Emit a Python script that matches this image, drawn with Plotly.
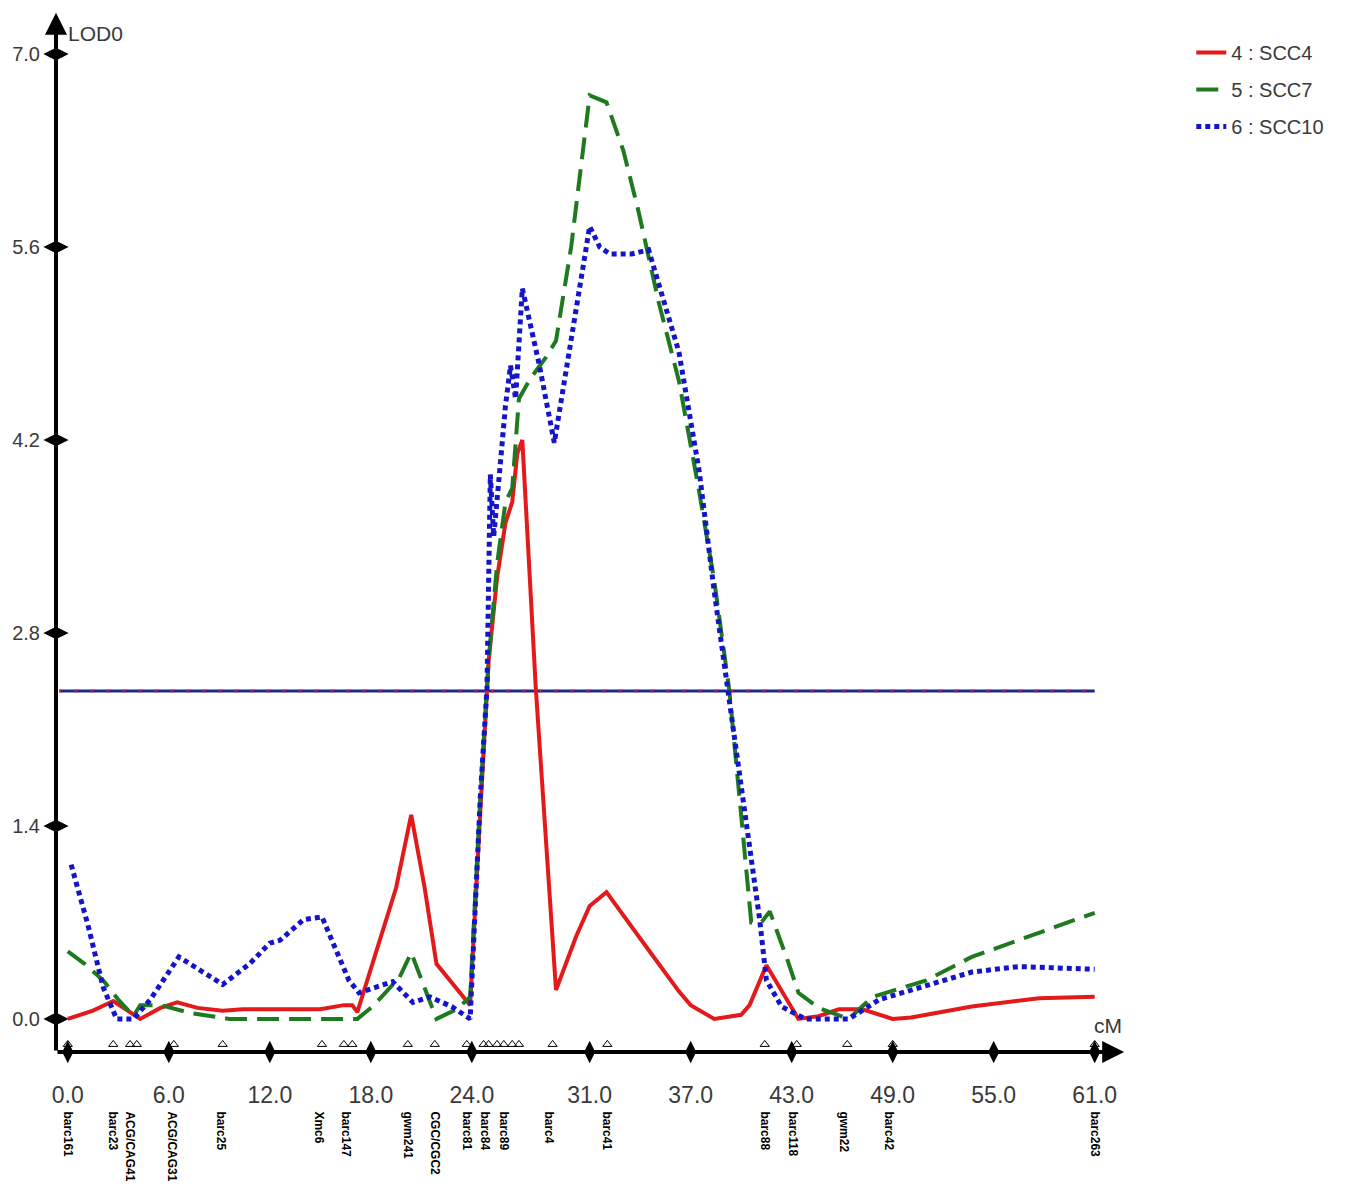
import plotly.graph_objects as go

# ---------------- data ----------------
tick_cm = [0.0, 6.0, 12.0, 18.0, 24.0, 31.0, 37.0, 43.0, 49.0, 55.0, 61.0]
tick_cm_text = ["0.0", "6.0", "12.0", "18.0", "24.0", "31.0", "37.0", "43.0", "49.0", "55.0", "61.0"]
tick_lod = [0.0, 1.4, 2.8, 4.2, 5.6, 7.0]
tick_lod_text = ["0.0", "1.4", "2.8", "4.2", "5.6", "7.0"]

marker_pos = [0.0, 2.7, 3.7, 4.1, 6.3, 9.2, 15.1, 16.4, 16.9, 20.2, 21.8, 23.7, 24.7,
              25.0, 25.5, 25.9, 26.4, 26.8, 28.8, 32.05, 41.4, 43.3, 46.3, 49.0, 61.0]
label_pos = [0.0, 2.7, 3.7, 6.2, 9.1, 14.9, 16.5, 20.2, 21.8, 23.7, 24.8, 25.9, 28.6,
             32.0, 41.4, 43.1, 46.1, 48.8, 61.0]
label_names = ["barc161", "barc23", "ACG/CAG41", "ACG/CAG31", "barc25", "Xmc6", "barc147",
               "gwm241", "CGC/CGC2", "barc81", "barc84", "barc89", "barc4", "barc41",
               "barc88", "barc118", "gwm22", "barc42", "barc263"]

threshold = 2.38

scc4_pos = [0.0, 1.5, 2.7, 4.3, 5.5, 6.5, 7.7, 9.2, 10.4, 12.0, 15.0, 16.4, 16.9, 17.2,
            18.5, 19.5, 20.4, 21.2, 21.9, 23.9, 24.5, 25.0, 25.5, 26.0, 26.4, 26.7, 27.0,
            27.8, 29.0, 30.2, 31.0, 32.0, 34.5, 36.3, 37.0, 38.4, 40.0, 40.5, 41.5, 43.4,
            44.6, 45.8, 47.2, 49.0, 50.1, 53.7, 57.7, 61.0]
scc4_lod = [0.0, 0.06, 0.13, 0.0, 0.08, 0.12, 0.08, 0.06, 0.07, 0.07, 0.07, 0.10, 0.10, 0.05,
            0.55, 0.95, 1.48, 0.95, 0.40, 0.10, 1.5, 2.6, 3.2, 3.6, 3.75, 4.1, 4.2,
            2.4, 0.21, 0.6, 0.82, 0.92, 0.5, 0.2, 0.1, 0.0, 0.03, 0.1, 0.39, 0.0,
            0.02, 0.07, 0.07, 0.0, 0.01, 0.09, 0.15, 0.16]

scc7_pos = [0.0, 1.0, 2.1, 3.0, 3.9, 4.3, 5.5, 7.4, 9.6, 12.0, 15.0, 17.2, 18.1, 19.7,
            20.4, 21.3, 21.9, 23.1, 23.9, 24.5, 25.0, 25.5, 26.0, 26.4, 26.8, 27.5, 28.4,
            29.0, 29.9, 31.0, 32.0, 33.0, 33.9, 35.1, 36.3, 37.5, 38.4, 39.3, 40.0, 40.6,
            41.2, 41.7, 42.8, 43.4, 44.6, 46.4, 47.8, 51.0, 53.7, 56.9, 61.0]
scc7_lod = [0.49, 0.40, 0.28, 0.14, 0.02, 0.10, 0.10, 0.04, 0.0, 0.0, 0.0, 0.0, 0.09, 0.30,
            0.48, 0.19, 0.0, 0.07, 0.16, 1.6, 2.6, 3.3, 3.75, 3.85, 4.5, 4.65, 4.8,
            4.92, 5.6, 6.7, 6.65, 6.3, 5.86, 5.2, 4.63, 3.83, 3.18, 2.38, 1.45, 0.7,
            0.7, 0.78, 0.41, 0.19, 0.08, 0.0, 0.16, 0.28, 0.45, 0.59, 0.77]

scc10_pos = [0.2, 1.2, 2.1, 2.9, 3.9, 4.9, 6.6, 7.8, 9.2, 10.8, 12.0, 12.6, 14.0, 15.1,
             15.5, 16.7, 17.3, 19.3, 20.5, 21.5, 22.8, 23.9, 24.5, 24.9, 25.1, 25.3, 25.6,
             26.0, 26.3, 26.6, 27.0, 28.0, 28.9, 31.0, 31.6, 32.2, 33.5, 34.5, 36.3, 37.5,
             38.4, 39.2, 40.2, 41.1, 41.5, 42.4, 43.8, 46.4, 48.2, 50.6, 53.7, 56.5, 61.0]
scc10_lod = [1.12, 0.68, 0.23, 0.0, 0.0, 0.14, 0.45, 0.36, 0.25, 0.40, 0.55, 0.57, 0.72, 0.74,
             0.62, 0.28, 0.19, 0.27, 0.12, 0.16, 0.09, 0.0, 1.6, 2.4, 3.95, 3.5, 3.9,
             4.45, 4.74, 4.5, 5.3, 4.75, 4.18, 5.75, 5.6, 5.55, 5.55, 5.58, 4.84, 3.98,
             3.1, 2.38, 1.48, 0.72, 0.28, 0.09, 0.0, 0.0, 0.14, 0.23, 0.34, 0.38, 0.36]

# ---------------- styling ----------------
X0, X1 = -0.7, 62.8
Y0, Y1 = -0.24, 7.32
NARROW = "Liberation Sans Narrow, Arial Narrow, Liberation Sans, sans-serif"
GREY = "#3a3a3a"
RED = "#e31a1c"
GREEN = "#1f7a1f"
BLUE = "#1414c8"

fig = go.Figure()

# threshold line (dotted multicolour look)
fig.add_trace(go.Scatter(x=[X0 + 0.2, 61.0], y=[threshold, threshold], mode="lines",
                         line=dict(color="#1a2a8a", width=3), showlegend=False, hoverinfo="skip"))
fig.add_trace(go.Scatter(x=[X0 + 0.2, 61.0], y=[threshold, threshold], mode="lines",
                         line=dict(color=RED, width=3, dash="2px,14px"), showlegend=False,
                         hoverinfo="skip"))

fig.add_trace(go.Scatter(x=scc4_pos, y=scc4_lod, mode="lines", name="4 : SCC4",
                         legendgroup="a", line=dict(color=RED, width=4), cliponaxis=False))
fig.add_trace(go.Scatter(x=scc7_pos, y=scc7_lod, mode="lines", name="5 : SCC7",
                         legendgroup="b", line=dict(color=GREEN, width=4, dash="22px,10px"),
                         cliponaxis=False))
fig.add_trace(go.Scatter(x=scc10_pos, y=scc10_lod, mode="lines", name="6 : SCC10",
                         legendgroup="c", line=dict(color=BLUE, width=5, dash="5px,4px"),
                         cliponaxis=False))

# axis tick marks (diamonds crossing the axis lines)
fig.add_trace(go.Scatter(x=tick_cm, y=[Y0] * len(tick_cm), mode="markers",
                         marker=dict(symbol="diamond-tall", size=16, color="black"),
                         showlegend=False, cliponaxis=False, hoverinfo="skip"))
fig.add_trace(go.Scatter(x=[X0] * len(tick_lod), y=tick_lod, mode="markers",
                         marker=dict(symbol="diamond-wide", size=18, color="black"),
                         showlegend=False, cliponaxis=False, hoverinfo="skip"))

# marker triangles (on the marker-label axis)
fig.add_trace(go.Scatter(x=marker_pos, y=[-0.185] * len(marker_pos), xaxis="x2",
                         mode="markers",
                         marker=dict(symbol="triangle-up-open", size=8, color="black",
                                     line=dict(width=1, color="black")),
                         showlegend=False, cliponaxis=False, hoverinfo="skip"))

annotations = [
    # x axis arrow
    dict(x=X1 - 0.05, y=Y0, ax=X0, ay=Y0, xref="x", yref="y", axref="x", ayref="y",
         text="", showarrow=True, arrowhead=2, arrowsize=1.1, arrowwidth=4, arrowcolor="black"),
    # y axis arrow
    dict(x=X0, y=Y1 - 0.02, ax=X0, ay=Y0, xref="x", yref="y", axref="x", ayref="y",
         text="", showarrow=True, arrowhead=2, arrowsize=1.1, arrowwidth=4, arrowcolor="black"),
    dict(x=X0, y=7.15, xref="x", yref="y", text="LOD0", showarrow=False, xanchor="left",
         xshift=10, font=dict(family=NARROW, size=21, color=GREY)),
    dict(x=61.8, y=-0.05, xref="x", yref="y", text="cM", showarrow=False, xanchor="center",
         font=dict(family=NARROW, size=21, color=GREY)),
]

# the page body adds an 8px offset, so the figure is sized/margined to compensate
fig.update_layout(
    width=1336, height=1180,
    margin=dict(l=48, r=219, t=2, b=136, autoexpand=False),
    plot_bgcolor="white", paper_bgcolor="white",
    font=dict(family=NARROW, color=GREY),
    xaxis=dict(range=[X0, X1], showgrid=False, zeroline=False, showline=False, automargin=False,
               tickvals=tick_cm, ticktext=tick_cm_text, ticks="outside", ticklen=22,
               tickcolor="rgba(0,0,0,0)", tickfont=dict(family=NARROW, size=23, color=GREY)),
    xaxis2=dict(range=[X0, X1], overlaying="x", matches="x", side="bottom", anchor="y",
                showgrid=False, zeroline=False, showline=False, automargin=False,
                tickvals=label_pos, ticktext=label_names, tickangle=90,
                ticks="outside", ticklen=56, tickcolor="rgba(0,0,0,0)",
                tickfont=dict(family=NARROW, size=12, color="black", weight="bold")),
    yaxis=dict(range=[Y0, Y1], showgrid=False, zeroline=False, showline=False, automargin=False,
               tickvals=tick_lod, ticktext=tick_lod_text, ticks="outside", ticklen=11,
               tickcolor="rgba(0,0,0,0)", tickfont=dict(family=NARROW, size=20, color=GREY)),
    legend=dict(x=1.062, y=0.978, xanchor="left", yanchor="top", tracegroupgap=8,
                font=dict(family=NARROW, size=20, color=GREY), bgcolor="rgba(0,0,0,0)"),
    annotations=annotations,
    showlegend=True,
)

fig.write_html("out.html")
